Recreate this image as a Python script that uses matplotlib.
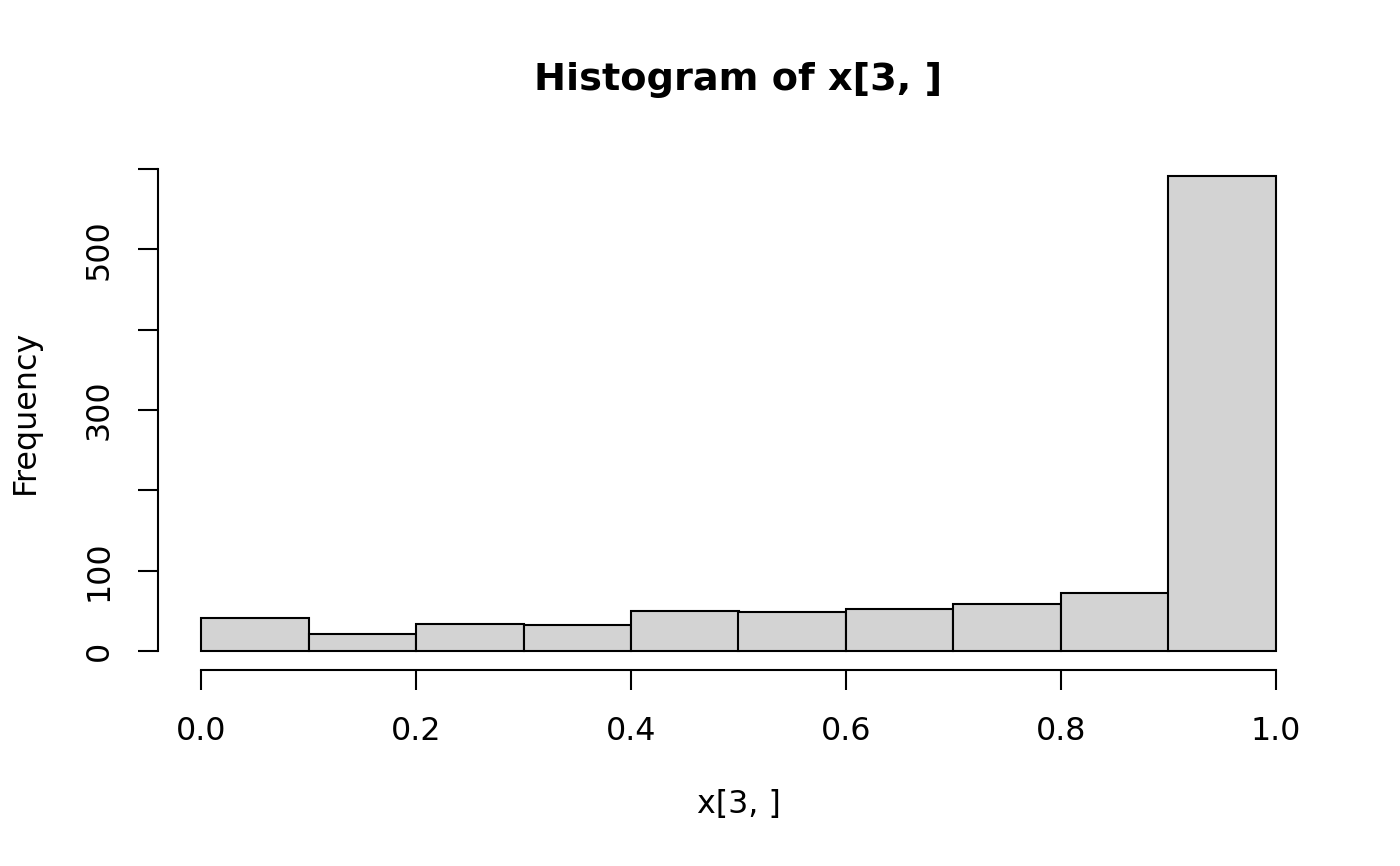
import matplotlib
matplotlib.use("Agg")
import matplotlib.pyplot as plt
import numpy as np

plt.rcParams['font.family'] = ['DejaVu Sans']

breaks = [0.0, 0.1, 0.2, 0.3, 0.4, 0.5, 0.6, 0.7, 0.8, 0.9, 1.0]
counts = [41, 21, 34, 32, 50, 49, 52, 58, 72, 591]
xticks = [0.0, 0.2, 0.4, 0.6, 0.8, 1.0]
xtick_labels = ["0.0", "0.2", "0.4", "0.6", "0.8", "1.0"]
yticks = [0, 100, 200, 300, 400, 500, 600]
ytick_labels = ["0", "100", "", "300", "", "500", ""]

W, H = 1400, 866
dpi = 200
fig = plt.figure(figsize=(W / dpi, H / dpi), dpi=dpi)
L, R, T, B = 158, 1319, 157, 670
ax = fig.add_axes([L / W, 1 - B / H, (R - L) / W, (B - T) / H])

lefts = np.array(breaks[:-1])
widths = np.diff(breaks)
ax.bar(lefts, counts, width=widths, align='edge', color='#D3D3D3',
       edgecolor='black', linewidth=0.75)

ymax = max(counts)
ax.set_xlim(-0.04, 1.04)
ax.set_ylim(-0.04 * ymax, 1.04 * ymax)

for s in ['top', 'right']:
    ax.spines[s].set_visible(False)
ax.spines['left'].set_bounds(0, 600)
ax.spines['bottom'].set_bounds(0, 1)
for s in ['left', 'bottom']:
    ax.spines[s].set_linewidth(0.75)

fs = 11.45
ax.set_xticks(xticks)
ax.set_xticklabels(xtick_labels)
ax.set_yticks(yticks)
ax.set_yticklabels(ytick_labels, rotation=90, va='center')
ax.tick_params(axis='both', length=7.2, width=0.75, labelsize=fs)
ax.tick_params(axis='x', pad=9.3)
ax.tick_params(axis='y', pad=8.4)

fig.text(738.5 / W, 1 - 80 / H, "Histogram of x[3, ]", ha='center', va='center',
         fontsize=13.75, fontweight='bold')
fig.text(738.5 / W, 1 - 805 / H, "x[3, ]", ha='center', va='center', fontsize=fs)
fig.text(25 / W, 1 - 412 / H, "Frequency", ha='center', va='center', fontsize=fs,
         rotation=90)

fig.savefig("out.png", dpi=dpi)
